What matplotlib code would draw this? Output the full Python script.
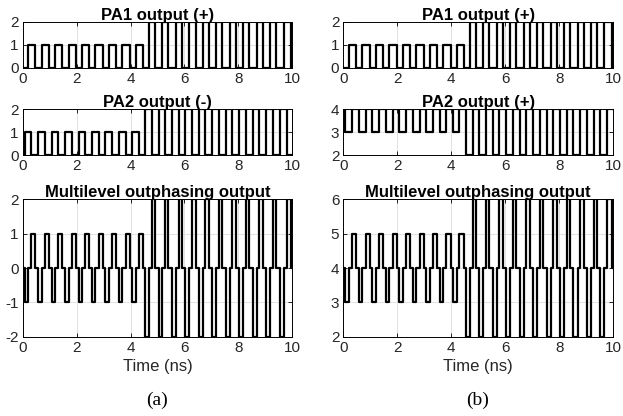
import numpy as np
import matplotlib
matplotlib.use("Agg")
import matplotlib.pyplot as plt

plt.rcParams["font.family"] = ["Liberation Sans", "DejaVu Sans"]
plt.rcParams["axes.unicode_minus"] = False

# pulse edges (ns)
pa1_rise = [0.20, 0.70, 1.20, 1.70, 2.20, 2.70, 3.20, 3.70, 4.21, 4.69,
            5.18, 5.68, 6.18, 6.68, 7.18, 7.68, 8.18, 8.68, 9.18, 9.68]
pa1_fall = [0.47, 0.97, 1.47, 1.97, 2.47, 2.97, 3.47, 3.97, 4.47, 4.92,
            5.40, 5.91, 6.41, 6.91, 7.41, 7.91, 8.41, 8.91, 9.41, 9.96]
pa1_level = [1, 1, 1, 1, 1, 1, 1, 1, 1, 2, 2, 2, 2, 2, 2, 2, 2, 2, 2, 2]

pa2_rise = [0.07, 0.57, 1.07, 1.57, 2.07, 2.57, 3.07, 3.57, 4.07, 4.55,
            5.04, 5.53, 6.03, 6.53, 7.03, 7.53, 8.03, 8.53, 9.03, 9.53]
pa2_fall = [0.32, 0.82, 1.32, 1.82, 2.32, 2.82, 3.32, 3.82, 4.30, 4.81,
            5.29, 5.78, 6.28, 6.78, 7.28, 7.78, 8.28, 8.78, 9.28, 9.79]
pa2_level = [1, 1, 1, 1, 1, 1, 1, 1, 1, 2, 2, 2, 2, 2, 2, 2, 2, 2, 2, 2]

pa2b_top = 4  # PA2 in (b) sits at 4 and dips down
t_end = 10

xticks = [0, 2, 4, 6, 8, 10]


def level_at(t, rise, fall, level):
    v = np.zeros_like(t, dtype=float)
    for r, f, l in zip(rise, fall, level):
        v[(t >= r) & (t < f)] = l
    return v


edges = np.array(sorted(set([0.0] + pa1_rise + pa1_fall + pa2_rise + pa2_fall)) + [t_end])
p1 = level_at(edges, pa1_rise, pa1_fall, pa1_level)
p2 = level_at(edges, pa2_rise, pa2_fall, pa2_level)
p2b = pa2b_top - p2
out_a = p1 - p2
out_b = p1 + p2b

W, H = 623, 416
fig = plt.figure(figsize=(W / 100, H / 100), dpi=100)

cols = [22.7, 343.5]
aw = 269.6
rows = [(21.7, 67.7), (109.3, 155.3), (199.3, 336.7)]


def make_ax(col, row):
    x0 = cols[col]
    top, bot = rows[row]
    ax = fig.add_axes([x0 / W, 1 - bot / H, aw / W, (bot - top) / H])
    ax.set_xlim(0, 10)
    ax.set_xticks(xticks)
    ax.grid(True, color="#dddddd", lw=0.6)
    ax.set_axisbelow(True)
    ax.tick_params(direction="in", length=3, width=0.6, top=True, right=True,
                   labelsize=11, pad=3, colors="black", labelcolor="#262626")
    for s in ax.spines.values():
        s.set_linewidth(0.7)
    return ax


panels = [
    (0, 0, p1, "PA1 output (+)", [0, 1, 2]),
    (0, 1, p2, "PA2 output (-)", [0, 1, 2]),
    (0, 2, out_a, "Multilevel outphasing output", [-2, -1, 0, 1, 2]),
    (1, 0, p1, "PA1 output (+)", [0, 1, 2]),
    (1, 1, p2b, "PA2 output (+)", [2, 3, 4]),
    (1, 2, out_b, "Multilevel outphasing output", [2, 3, 4, 5, 6]),
]

for col, row, y, title, yt in panels:
    ax = make_ax(col, row)
    ax.step(edges, y, where="post", color="black", lw=1.6)
    ax.set_ylim(yt[0], yt[-1])
    ax.set_yticks(yt)
    ax.set_title(title, fontsize=12, fontweight="bold", pad=1.5)
    if row == 2:
        ax.set_xlabel("Time (ns)", fontsize=12, color="#262626", labelpad=3)

fig.text(157 / W, 1 - 400 / H, "(a)", ha="center", va="center",
         fontsize=14, family="Liberation Serif")
fig.text(478 / W, 1 - 400 / H, "(b)", ha="center", va="center",
         fontsize=14, family="Liberation Serif")

fig.savefig("out.png", dpi=100)
